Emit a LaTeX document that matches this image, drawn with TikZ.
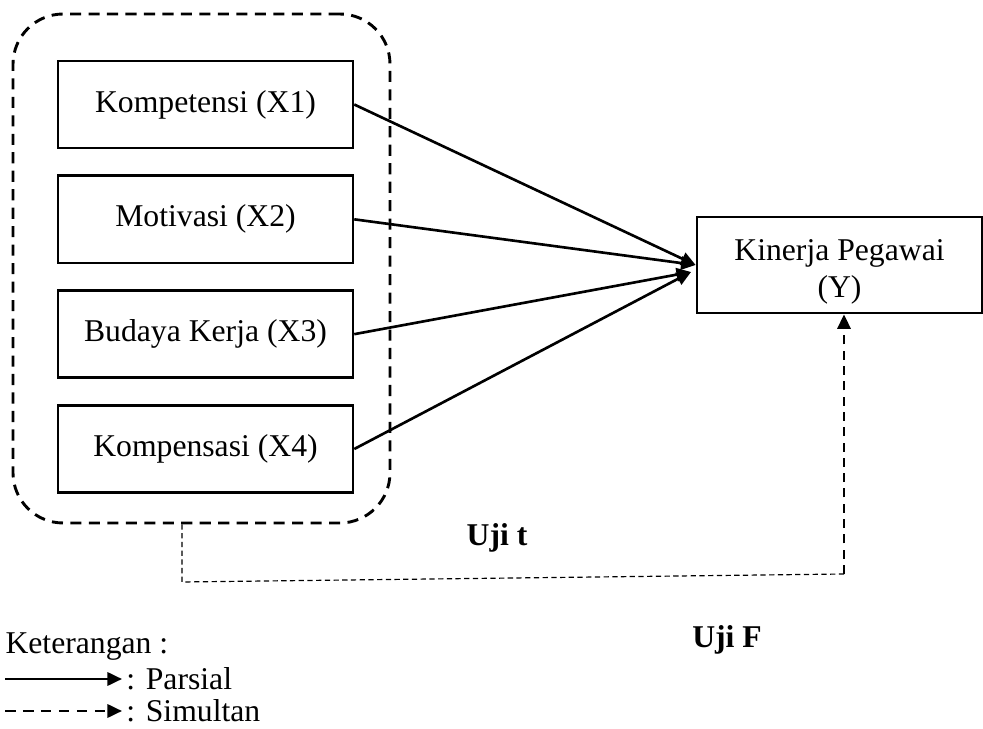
\documentclass[tikz,border=0pt]{standalone}
\usepackage{fontspec}
\setmainfont{Liberation Serif}
\usetikzlibrary{positioning,arrows.meta,calc}

\begin{document}
\begin{tikzpicture}[
  x=0.3788pt, y=-0.3788pt,
  >={Triangle[length=5.5pt,width=5pt]},
  font=\fontsize{12}{14}\selectfont,
  var/.style={draw, line width=1pt, minimum width=111.7pt, minimum height=33pt, inner sep=0pt},
  groupbox/.style={draw, line width=1.1pt, dash pattern=on 4.2pt off 2.8pt, rounded corners=19pt, minimum width=142.8pt, minimum height=192.8pt},
  parsial/.style={->, line width=1pt},
  simultan/.style={->, line width=1pt, dash pattern=on 3.4pt off 2.4pt},
  link/.style={line width=0.45pt, dash pattern=on 2pt off 1.3pt},
  uji/.style={font=\fontsize{12}{14}\selectfont\bfseries}
]
\useasboundingbox (0,0) rectangle (983,729);

% variabel bebas
\node[groupbox] (grp) at (201.5,268.5) {};
\node[var] (x1) at (205.5,104.5) {Kompetensi (X1)};
\node[var, below=9.5pt of x1] (x2) {Motivasi (X2)};
\node[var, below=9.5pt of x2] (x3) {Budaya Kerja (X3)};
\node[var, below=9.5pt of x3] (x4) {Kompensasi (X4)};

% variabel terikat
\node[var, minimum width=108pt, minimum height=36.4pt, align=center,
  font=\fontsize{12}{14}\selectfont] (y) at (839.5,265) {\rule{0pt}{13pt}Kinerja Pegawai\\(Y)};

% uji t
\coordinate (yin) at (691,272);
\draw[parsial] (x1.east) -- (y.west);
\draw[parsial] (x2.east) -- (y.west);
\draw[parsial] (x3.east) -- (yin);
\draw[parsial] (x4.east) -- (yin);

% uji F
\coordinate (fa) at (182,582);
\coordinate (fb) at (844,574);
\draw[link] (grp.south -| fa) -- (fa) -- (fb);
\draw[simultan] (fb) -- (fb |- y.south);

\node[uji] (ujit) at (497,538) {Uji t};
\node[uji] (ujif) at (727,640) {Uji F};

% keterangan
\node[anchor=west, inner sep=0pt] (ket) at (5,647) {Keterangan :};
\coordinate (pa) at (5,679);
\coordinate (pb) at (122,679);
\coordinate (sa) at (5,711);
\coordinate (sb) at (122,711);
\draw[parsial] (pa) -- (pb);
\draw[simultan, dash pattern=on 4pt off 2.8pt] (sa) -- (sb);
\node[anchor=west, inner sep=1.5pt] (lblp) at (pb) {: Parsial};
\node[anchor=west, inner sep=1.5pt] (lbls) at (sb) {: Simultan};

\end{tikzpicture}
\end{document}
